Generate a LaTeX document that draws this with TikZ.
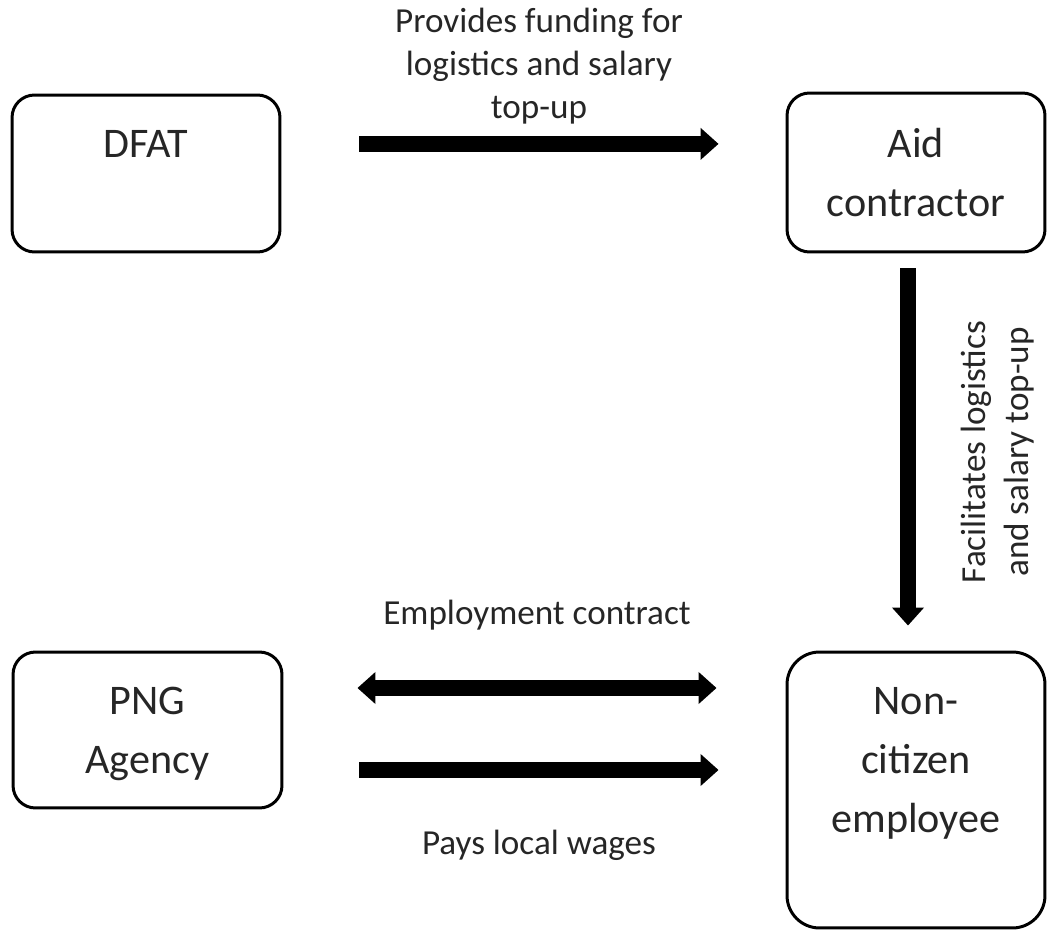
\documentclass[tikz,border=0pt]{standalone}
\usepackage{fontspec}
\setmainfont{Carlito}
\usetikzlibrary{positioning, calc, arrows.meta}

\begin{document}
\begin{tikzpicture}[x=0.02cm, y=-0.02cm,
    box/.style={draw, line width=1.7pt, rounded corners=0.45cm,
      inner sep=0pt},
    boxtext/.style={align=center, inner sep=0pt, text=black!85,
      font=\fontsize{24}{33.5}\selectfont},
    lbl/.style={align=center, inner sep=0pt, text=black!85,
      font=\fontsize{20}{24.5}\selectfont},
    fat/.style={line width=9pt,
      -{Triangle[width=0.62cm, length=0.36cm]}},
    fatboth/.style={line width=9pt,
      {Triangle[width=0.62cm, length=0.36cm]}-{Triangle[width=0.62cm, length=0.36cm]}}]
  \useasboundingbox (0,0) rectangle (1047,932);

  % boxes
  \node [box, minimum width=5.36cm, minimum height=3.14cm] (dfat) at (146,173.5) {};
  \node [box, minimum width=5.16cm, minimum height=3.18cm] (aid) at (916,172.5) {};
  \node [box, minimum width=5.38cm, minimum height=3.12cm] (png) at (147.5,730) {};
  \node [box, rounded corners=0.65cm, minimum width=5.16cm, 
    minimum height=5.52cm] (noncit) at (916,790) {};

  \node [boxtext, below=0.73cm of dfat.north] (dfattext) {DFAT};
  \node [boxtext, below=0.73cm of aid.north] (aidtext) {Aid\\contractor};
  \node [boxtext, below=0.73cm of png.north] (pngtext) {PNG\\Agency};
  \node [boxtext, below=0.73cm of noncit.north] (noncittext) {Non-\\citizen\\employee};

% ARROWS

  \draw[fat] ($(dfat.east |- dfattext)+(78,0)$) 
  -- node[lbl, midway, above=0.24cm] (fundlbl) 
  {Provides funding for\\logistics and salary\\top-up}
  ($(aid.west |- dfattext)+(-67,0)$);

  \draw[fat] ($(aid.south)+(-8,15)$) -- ($(noncit.north)+(-8,-25)$);
  \node [lbl, rotate=90, anchor=north] (facillbl) 
    at ($(aid.south)!0.5!(noncit.north)+(45,0)$)
    {Facilitates logistics\\and salary top-up};

  \draw[fatboth] ($(png.east)+(74,-42)$) 
  -- node[lbl, midway, above=1.0cm] (contractlbl) {Employment contract}
  ($(png.east -| noncit.west)+(-69,-42)$);

  \draw[fat] ($(png.east)+(76,40)$) 
  -- node[lbl, midway, below=1.05cm] (wageslbl) {Pays local wages}
  ($(png.east -| noncit.west)+(-67,40)$);

\end{tikzpicture}
\end{document}
